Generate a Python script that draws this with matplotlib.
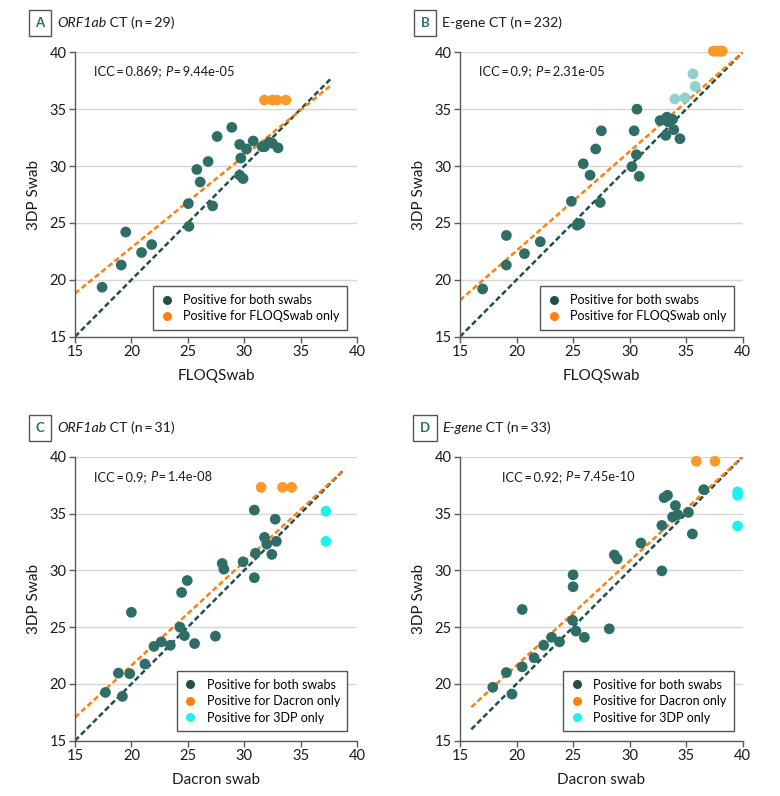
import matplotlib
matplotlib.use("Agg")
import matplotlib.pyplot as plt
from matplotlib.lines import Line2D
from matplotlib.text import Annotation

plt.rcParams['font.family'] = ['Lato', 'DejaVu Sans']

# ---------------- Data ----------------
# Panel A: ORF1ab CT, FLOQSwab (x) vs 3DP Swab (y)
a_both_x = [28.9, 27.6, 29.6, 30.8, 30.2, 29.7, 31.6, 31.8, 32.2, 32.5, 33.0, 26.8, 25.8, 26.1, 29.6, 29.9,
            25.05, 27.2, 25.1, 19.5, 20.9, 21.8, 19.1, 17.4]
a_both_y = [33.4, 32.6, 31.9, 32.2, 31.5, 30.7, 31.7, 31.7, 32.1, 32.0, 31.6, 30.4, 29.7, 28.6, 29.2, 28.9,
            26.7, 26.5, 24.7, 24.2, 22.4, 23.1, 21.3, 19.35]
a_only_x = [31.8, 32.5, 32.9, 33.7]
a_only_y = [35.8, 35.8, 35.8, 35.8]
a_fit = {"x0": 15, "x1": 37.7, "b0": 18.8, "b1": 37.1}   # orange regression line ends
a_ident = [15, 37.7]

# Panel B: E-gene CT, FLOQSwab vs 3DP Swab
b_both_x = [30.65, 27.5, 30.4, 27.0, 25.9, 26.5, 30.2, 30.6, 30.85, 32.7, 33.3, 33.4, 33.8, 33.2, 33.9, 34.45,
            24.85, 27.4, 25.35, 25.6, 19.1, 20.7, 22.1, 19.1, 17.0]
b_both_y = [35.0, 33.1, 33.1, 31.5, 30.2, 29.2, 29.95, 31.0, 29.1, 34.0, 34.3, 33.9, 34.1, 32.7, 33.2, 32.4,
            26.9, 26.8, 24.8, 24.95, 23.9, 22.3, 23.35, 21.3, 19.2]
b_faint_x = [35.6, 35.8, 34.0, 34.9]
b_faint_y = [38.1, 37.0, 35.9, 36.0]
b_only_x = [37.4, 37.65, 37.85, 38.05, 38.2]
b_only_y = [40.1, 40.1, 40.1, 40.1, 40.1]
b_fit = {"x0": 15, "x1": 40, "b0": 18.2, "b1": 40.0}
b_ident = [15, 40]

# Panel C: ORF1ab CT, Dacron swab vs 3DP Swab
c_both_x = [30.9, 32.75, 31.8, 32.0, 32.85, 31.0, 32.45, 29.9, 28.05, 28.2, 30.9, 24.95, 24.45,
            20.0, 24.3, 24.7, 27.45, 25.6, 22.65, 22.0, 23.45, 21.2, 18.85, 19.85, 17.7, 19.2]
c_both_y = [35.3, 34.5, 32.9, 32.3, 32.55, 31.5, 31.4, 30.75, 30.6, 30.1, 29.35, 29.1, 28.05,
            26.3, 25.0, 24.25, 24.2, 23.55, 23.7, 23.3, 23.4, 21.75, 20.95, 20.9, 19.25, 18.9]
c_dac_x = [31.5, 33.4, 34.2]
c_dac_y = [37.3, 37.3, 37.3]
c_3dp_x = [37.25, 37.25]
c_3dp_y = [35.2, 32.55]
c_fit = {"x0": 15, "x1": 38.8, "b0": 17.05, "b1": 38.8}
c_ident = [15, 38.9]

# Panel D: E-gene CT, Dacron swab vs 3DP Swab
d_both_x = [36.55, 33.05, 33.35, 34.05, 33.8, 34.25, 35.2, 32.85, 35.55, 31.0, 28.65, 28.9, 32.85, 25.0, 25.0,
            20.5, 24.95, 25.25, 26.0, 28.2, 23.1, 23.8, 22.4, 21.55, 20.5, 19.1, 17.9, 19.6]
d_both_y = [37.1, 36.4, 36.6, 35.7, 34.7, 34.9, 35.1, 33.95, 33.2, 32.4, 31.35, 31.0, 29.95, 29.6, 28.55,
            26.55, 25.6, 24.65, 24.1, 24.85, 24.1, 23.7, 23.4, 22.3, 21.5, 21.0, 19.7, 19.1]
d_dac_x = [35.9, 37.55]
d_dac_y = [39.6, 39.6]
d_3dp_x = [39.55, 39.55, 39.55]
d_3dp_y = [36.9, 36.6, 33.9]
d_fit = {"x0": 16, "x1": 40, "b0": 17.95, "b1": 40.0}
d_ident = [16, 40]

ticks = [15, 20, 25, 30, 35, 40]

# ---------------- Styles ----------------
TEAL_PT = "#2e6e67"
TEAL = "#21504c"
ORANGE = "#ff7f0e"
ORANGE_PT = "#f99a2a"
CYAN = "#1ff0f0"
FAINT = "#8fd0d0"
GRID = "#d6d6d6"
SPINE = "#5a5a5a"
TXT = "#1a1a1a"
TS = "\u2009"   # thin space

TICK_FS = 10.5
LABEL_FS = 11
NOTE_FS = 9.3
LEG_FS = 9
TITLE_FS = 10.2

fig = plt.figure(figsize=(7.8, 7.96), dpi=100)
W, H = 780, 796


def px_axes(x0, x1, ytop, ybot):
    return fig.add_axes([x0 / W, 1 - ybot / H, (x1 - x0) / W, (ybot - ytop) / H])


def style(ax, xlabel):
    ax.set_xlim(15, 40)
    ax.set_ylim(15, 40)
    ax.set_xticks(ticks)
    ax.set_yticks(ticks)
    ax.set_xticklabels([str(t) for t in ticks])
    ax.set_yticklabels([str(t) for t in ticks])
    for s in ['top', 'right']:
        ax.spines[s].set_visible(False)
    for s in ['left', 'bottom']:
        ax.spines[s].set_color(SPINE)
        ax.spines[s].set_linewidth(1.0)
    ax.tick_params(axis='both', direction='out', length=4, width=1, color=SPINE,
                   labelsize=TICK_FS, labelcolor=TXT, pad=2)
    ax.yaxis.grid(True, color=GRID, linewidth=1.0)
    ax.xaxis.grid(False)
    ax.set_axisbelow(True)
    ax.set_xlabel(xlabel, fontsize=LABEL_FS, color=TXT, labelpad=7)
    ax.set_ylabel("3DP Swab", fontsize=LABEL_FS, color=TXT, labelpad=6)


def pts(ax, x, y, c):
    ax.scatter(x, y, s=60, color=c, edgecolors='none', zorder=3, clip_on=False)


def lines(ax, ident, fit):
    ax.plot(ident, ident, linestyle=(0, (2.2, 1.2)), color=TEAL, linewidth=1.8, zorder=2)
    ax.plot([fit["x0"], fit["x1"]], [fit["b0"], fit["b1"]], linestyle=(0, (2.2, 1.2)),
            color=ORANGE, linewidth=1.8, zorder=2)


def chain(ax, x, y, parts, size):
    t = ax.text(x, y, parts[0][0], fontsize=size, style=parts[0][1], va='center', ha='left',
                transform=ax.transData, color=TXT)
    for txt, st in parts[1:]:
        t = ax.annotate(txt, xy=(1, 0), xycoords=t, fontsize=size, style=st, va='bottom',
                        ha='left', color=TXT)
    return t


def make_title(xbox, ycenter, letter, parts):
    fig.text(xbox / W, 1 - ycenter / H, letter, fontsize=9.5, fontweight='bold', color='#2e6e67',
             ha='center', va='center',
             bbox=dict(boxstyle='square,pad=0.5', facecolor='white', edgecolor='#555555', linewidth=1))
    t = fig.text((xbox + 17) / W, 1 - ycenter / H, parts[0][0], fontsize=TITLE_FS, style=parts[0][1],
                 ha='left', va='center', color=TXT)
    for txt, st in parts[1:]:
        t = fig.add_artist(Annotation(txt, xy=(1, 0), xycoords=t, fontsize=TITLE_FS, style=st,
                                      va='bottom', ha='left', color=TXT))


def legend(ax, labels, colors, anchor):
    handles = [Line2D([], [], marker='o', linestyle='none', markersize=6.5, color=c,
                      markeredgecolor='none') for c in colors]
    lg = ax.legend(handles, labels, loc='lower right', bbox_to_anchor=anchor,
                   fontsize=LEG_FS, frameon=True, fancybox=False, edgecolor='#555555',
                   borderpad=0.6, handletextpad=0.8, labelspacing=0.35, handlelength=1.0,
                   borderaxespad=0, framealpha=1)
    lg.get_frame().set_linewidth(1.0)


# ---------------- Panel A ----------------
axA = px_axes(75, 357, 52.3, 336.7)
style(axA, "FLOQSwab")
lines(axA, a_ident, a_fit)
pts(axA, a_both_x, a_both_y, TEAL_PT)
pts(axA, a_only_x, a_only_y, ORANGE_PT)
chain(axA, 16.7, 38.3, [(f"ICC{TS}={TS}0.869; ", 'normal'), ("P", 'italic'), (f"{TS}={TS}9.44e-05", 'normal')], NOTE_FS)
legend(axA, ["Positive for both swabs", "Positive for FLOQSwab only"], [TEAL, ORANGE], (0.966, 0.024))
make_title(40, 23, "A", [("ORF1ab", 'italic'), (f" CT (n{TS}={TS}29)", 'normal')])

# ---------------- Panel B ----------------
axB = px_axes(460, 742.7, 52.3, 336.7)
style(axB, "FLOQSwab")
lines(axB, b_ident, b_fit)
pts(axB, b_both_x, b_both_y, TEAL_PT)
pts(axB, b_faint_x, b_faint_y, FAINT)
pts(axB, b_only_x, b_only_y, ORANGE_PT)
chain(axB, 16.7, 38.3, [(f"ICC{TS}={TS}0.9; ", 'normal'), ("P", 'italic'), (f"{TS}={TS}2.31e-05", 'normal')], NOTE_FS)
legend(axB, ["Positive for both swabs", "Positive for FLOQSwab only"], [TEAL, ORANGE], (0.97, 0.024))
make_title(425, 23, "B", [(f"E-gene CT (n{TS}={TS}232)", 'normal')])

# ---------------- Panel C ----------------
axC = px_axes(75, 357, 456.7, 740.7)
style(axC, "Dacron swab")
lines(axC, c_ident, c_fit)
pts(axC, c_both_x, c_both_y, TEAL_PT)
pts(axC, c_dac_x, c_dac_y, ORANGE_PT)
pts(axC, c_3dp_x, c_3dp_y, CYAN)
chain(axC, 16.7, 38.2, [(f"ICC{TS}={TS}0.9; ", 'normal'), ("P", 'italic'), (f"{TS}={TS}1.4e-08", 'normal')], NOTE_FS)
legend(axC, ["Positive for both swabs", "Positive for Dacron only", "Positive for 3DP only"],
       [TEAL, ORANGE, CYAN], (0.966, 0.034))
make_title(40, 428, "C", [("ORF1ab", 'italic'), (f" CT (n{TS}={TS}31)", 'normal')])

# ---------------- Panel D ----------------
axD = px_axes(460, 742.7, 456.7, 740.7)
style(axD, "Dacron swab")
lines(axD, d_ident, d_fit)
pts(axD, d_both_x, d_both_y, TEAL_PT)
pts(axD, d_dac_x, d_dac_y, ORANGE_PT)
pts(axD, d_3dp_x, d_3dp_y, CYAN)
chain(axD, 18.7, 38.2, [(f"ICC{TS}={TS}0.92; ", 'normal'), ("P", 'italic'), (f"{TS}={TS}7.45e-10", 'normal')], NOTE_FS)
legend(axD, ["Positive for both swabs", "Positive for Dacron only", "Positive for 3DP only"],
       [TEAL, ORANGE, CYAN], (0.97, 0.034))
make_title(425, 428, "D", [("E-gene", 'italic'), (f" CT (n{TS}={TS}33)", 'normal')])

fig.savefig("out.png", dpi=100, facecolor='white')
